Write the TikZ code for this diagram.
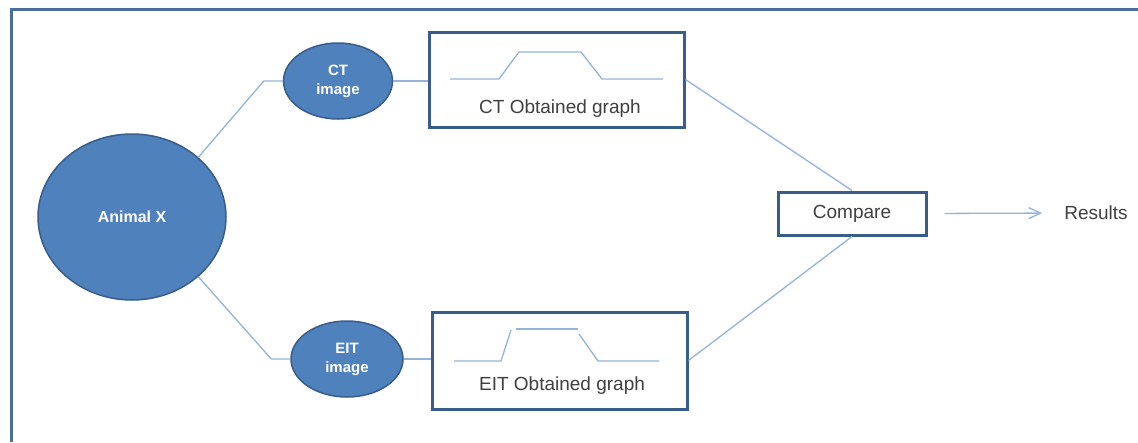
\documentclass[tikz,border=0pt]{standalone}
\usepackage{fontspec}
\setmainfont{Liberation Sans}
\usetikzlibrary{shapes.geometric,arrows.meta}
\definecolor{fillblue}{HTML}{4F81BD}
\definecolor{edgeblue}{HTML}{385D8A}
\definecolor{linkblue}{HTML}{95B3D7}
\definecolor{framecol}{HTML}{4A6E9C}
\definecolor{txtgray}{HTML}{404040}
\begin{document}
\begin{tikzpicture}[x=1pt,y=-1pt,
  blob/.style={ellipse, draw=edgeblue, line width=1.5pt, fill=fillblue, text=white,
    font=\bfseries\fontsize{15}{19}\selectfont, align=center, inner sep=0pt},
  panel/.style={rectangle, draw=edgeblue, line width=3pt, fill=white, inner sep=0pt},
  link/.style={draw=linkblue, line width=1.3pt},
  txt/.style={text=txtgray, font=\fontsize{19}{22}\selectfont, inner sep=0pt}
]
\useasboundingbox (0,0) rectangle (1138,442);
\draw[framecol, line width=3pt] (11,442) -- (11,9) -- (1138,9);

\node[blob, minimum width=188pt, minimum height=166pt, font=\bfseries\fontsize{16}{19}\selectfont] (animal) at (132,217) {Animal X};
\node[blob, minimum width=109pt, minimum height=76pt] (ct) at (338,81) {CT\\image};
\node[blob, minimum width=112pt, minimum height=76pt] (eit) at (347,359) {EIT\\image};
\node[panel, minimum width=255pt, minimum height=95pt] (ctbox) at (556.5,79.5) {};
\node[panel, minimum width=255pt, minimum height=97pt] (eitbox) at (559.5,360.5) {};
\node[panel, minimum width=148pt, minimum height=43pt, txt] (compare) at (852,213.5) {Compare};
\node[txt] (cttext) at (560,109) {CT Obtained graph};
\node[txt] (eittext) at (562,386) {EIT Obtained graph};
\node[txt] (results) at (1096,213) {Results};

\draw[link] (animal.42) -- ([xshift=-19pt]ct.west) -- (ct.west);
\draw[link] (animal.-42) -- ([xshift=-19pt]eit.west) -- (eit.west);
\draw[link] (ct.east) -- (ct.east -| ctbox.west);
\draw[link] (eit.east) -- (eit.east -| eitbox.west);
\draw[link] (ctbox.east) -- (compare.north);
\draw[link] (eitbox.east) -- (compare.south);
\draw[link, -{Straight Barb[length=12pt,width=11pt]}, shorten <=17pt, shorten >=22pt] (compare.east) -- (results.west);

\draw[link] (450,79) -- (499,79) -- (519,52) -- (581,52) -- (602,79) -- (663,79);
\draw[link] (454,361) -- (501,361) -- (511,330);
\draw[link] (516,329) -- (578,329);
\draw[link] (579,334) -- (598,361) -- (659,361);
\end{tikzpicture}
\end{document}
